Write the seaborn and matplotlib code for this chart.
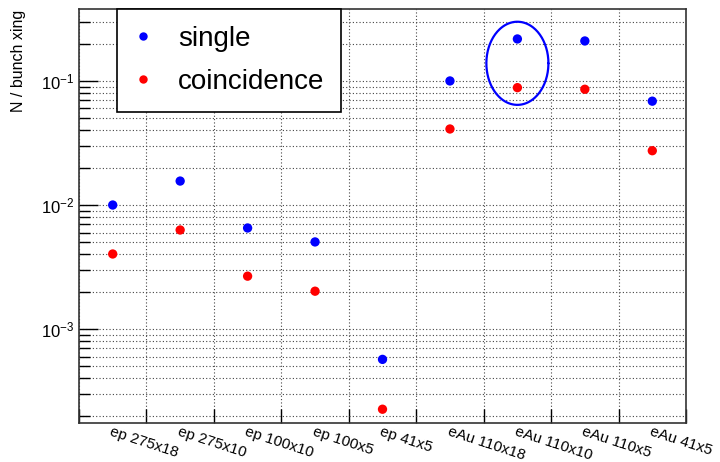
import numpy as np
import pandas as pd
import matplotlib
matplotlib.use("Agg")
import matplotlib.pyplot as plt
import matplotlib.ticker as mticker
import seaborn as sns

categories = ["ep 275x18", "ep 275x10", "ep 100x10", "ep 100x5", "ep 41x5",
              "eAu 110x18", "eAu 110x10", "eAu 110x5", "eAu 41x5"]
single = [0.0100, 0.0156, 0.00653, 0.00504, 0.00057,
          0.100, 0.218, 0.210, 0.0687]
coincidence = [0.00403, 0.00629, 0.00267, 0.00202, 0.000226,
               0.0410, 0.0883, 0.0857, 0.0274]
highlight = "eAu 110x10"

sns.set_style("white")
plt.rcParams['font.family'] = ['Liberation Sans', 'DejaVu Sans']
plt.rcParams['mathtext.fontset'] = 'custom'
plt.rcParams['mathtext.rm'] = 'Liberation Sans'
plt.rcParams['text.color'] = 'black'
plt.rcParams['axes.labelcolor'] = 'black'
plt.rcParams['xtick.color'] = 'black'
plt.rcParams['ytick.color'] = 'black'

df = pd.DataFrame({
    "run": categories * 2,
    "rate": single + coincidence,
    "type": ["single"] * len(categories) + ["coincidence"] * len(categories),
})

fig = plt.figure(figsize=(7.2, 4.62), dpi=100)
ax = fig.add_axes([0.1097, 0.0844, 0.8431, 0.8961])

sns.scatterplot(data=df, x="run", y="rate", hue="type",
                palette={"single": "blue", "coincidence": "red"},
                s=45, edgecolor="none", ax=ax, zorder=3)

ax.set_yscale("log")
ax.set_ylim(1.75e-4, 0.38)
ax.set_xlim(-0.5, len(categories) - 0.5)

# bin edges as ticks/grid, names at bin centres
ax.set_xticks(np.arange(len(categories) + 1) - 0.5)
ax.set_xticklabels([])
ax.set_xticks(np.arange(len(categories)), minor=True)
ax.set_xticklabels(categories, minor=True, rotation=-18, ha="left",
                   rotation_mode="anchor", fontsize=11)
ax.tick_params(axis="x", which="major", direction="in", length=10, width=1, bottom=True)
ax.tick_params(axis="x", which="minor", length=0, pad=1)

ax.yaxis.set_major_locator(mticker.LogLocator(base=10))
ax.yaxis.set_minor_locator(mticker.LogLocator(base=10, subs=np.arange(2, 10)))
ax.yaxis.set_minor_formatter(mticker.NullFormatter())
ax.tick_params(axis="y", which="major", direction="in", length=14, width=1, labelsize=12, left=True)
ax.tick_params(axis="y", which="minor", direction="in", length=8, width=1, left=True)

ax.grid(True, which="major", axis="x", color="#444444", linestyle=(0, (1, 2)), lw=0.8)
ax.grid(True, which="both", axis="y", color="#444444", linestyle=(0, (1, 2)), lw=0.8)

for sp in ax.spines.values():
    sp.set_color("#333333")
    sp.set_linewidth(1.2)

ax.set_xlabel("")
ax.set_ylabel("N / bunch xing", fontsize=11.5, loc="top")
ax.yaxis.set_label_coords(-0.088, 0.998)

# circle around the highlighted run
i = categories.index(highlight)
yc = np.log10(np.sqrt(single[i] * coincidence[i]))
t = np.linspace(0, 2 * np.pi, 200)
ax.plot(i + 0.46 * np.cos(t), 10 ** (yc + 0.335 * np.sin(t)), color="blue", lw=1.6, zorder=4)

leg = ax.legend(loc="upper left", bbox_to_anchor=(0.0626, 1.0), borderaxespad=0,
                fontsize=20, frameon=True, fancybox=False, edgecolor="black",
                borderpad=0.6, handlelength=0.7, handletextpad=0.9,
                markerscale=0.9, labelspacing=0.62)
leg.get_frame().set_linewidth(1.2)
leg.get_frame().set_alpha(1)

fig.savefig("out.png", dpi=100)
